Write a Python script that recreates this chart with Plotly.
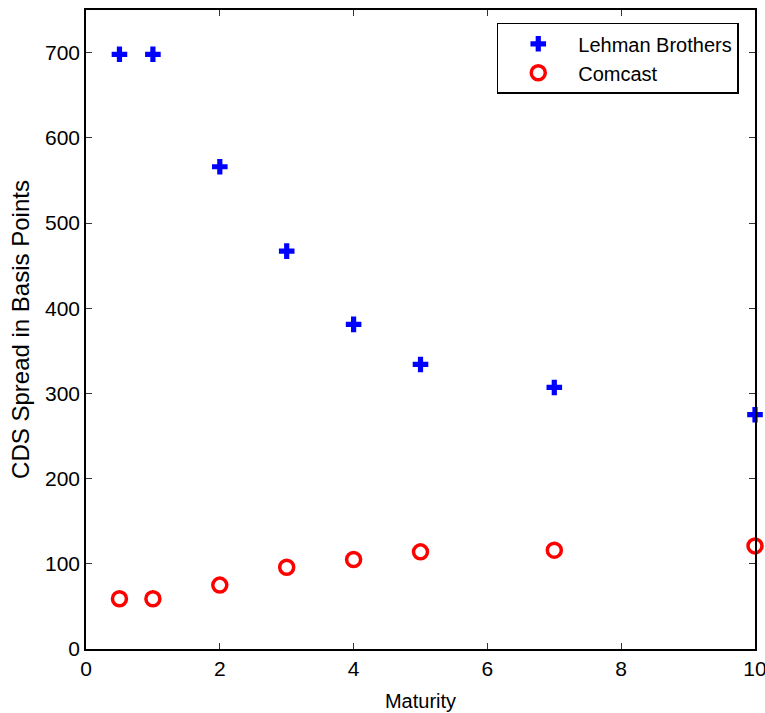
import plotly.graph_objects as go

maturity = [0.5, 1, 2, 3, 4, 5, 7, 10]
lehman = [698, 698, 566, 467, 381, 334, 307, 275]
comcast = [59, 59, 75, 96, 105, 114, 116, 121]

fig = go.Figure()
fig.add_trace(go.Scatter(x=maturity, y=lehman, mode="markers", name="Lehman Brothers",
                         marker=dict(symbol="cross", size=13, color="#0000ff",
                                     line=dict(width=0)), cliponaxis=False))
fig.add_trace(go.Scatter(x=maturity, y=comcast, mode="markers", name="Comcast",
                         marker=dict(symbol="circle-open", size=14, color="#ff0000",
                                     line=dict(width=3.5, color="#ff0000")), cliponaxis=False))

FAM = "Liberation Sans, Arial, sans-serif"
tickfont = dict(family=FAM, size=21, color="black")
axis = dict(showgrid=False, zeroline=False, showline=True, linecolor="black", linewidth=1.5,
            mirror="ticks", ticks="inside", ticklen=6, tickcolor="#333333", tickwidth=1,
            tickfont=tickfont, ticklabeloverflow="allow")
fig.update_layout(
    width=765, height=713,
    margin=dict(l=86, r=10, t=10, b=64),
    paper_bgcolor="white", plot_bgcolor="white",
    font=dict(family=FAM, color="black"),
    showlegend=True,
    legend=dict(x=0.614, y=0.98, xanchor="left", yanchor="top",
                bordercolor="black", borderwidth=1.5, bgcolor="white",
                font=dict(family=FAM, size=20, color="black"),
                itemwidth=70),
    xaxis=dict(range=[0, 10], tickvals=[0, 2, 4, 6, 8, 10], automargin=False,
               title=dict(text="Maturity", font=dict(family=FAM, size=20, color="black")), **axis),
    yaxis=dict(range=[0, 750], tickvals=[0, 100, 200, 300, 400, 500, 600, 700], automargin="left",
               title=dict(text="CDS Spread in Basis Points", standoff=9,
                          font=dict(family=FAM, size=24, color="black")), **axis),
)
fig.write_html("out.html", config={"displayModeBar": False},
               post_script="document.body.style.margin='0';document.body.style.overflow='hidden';")
